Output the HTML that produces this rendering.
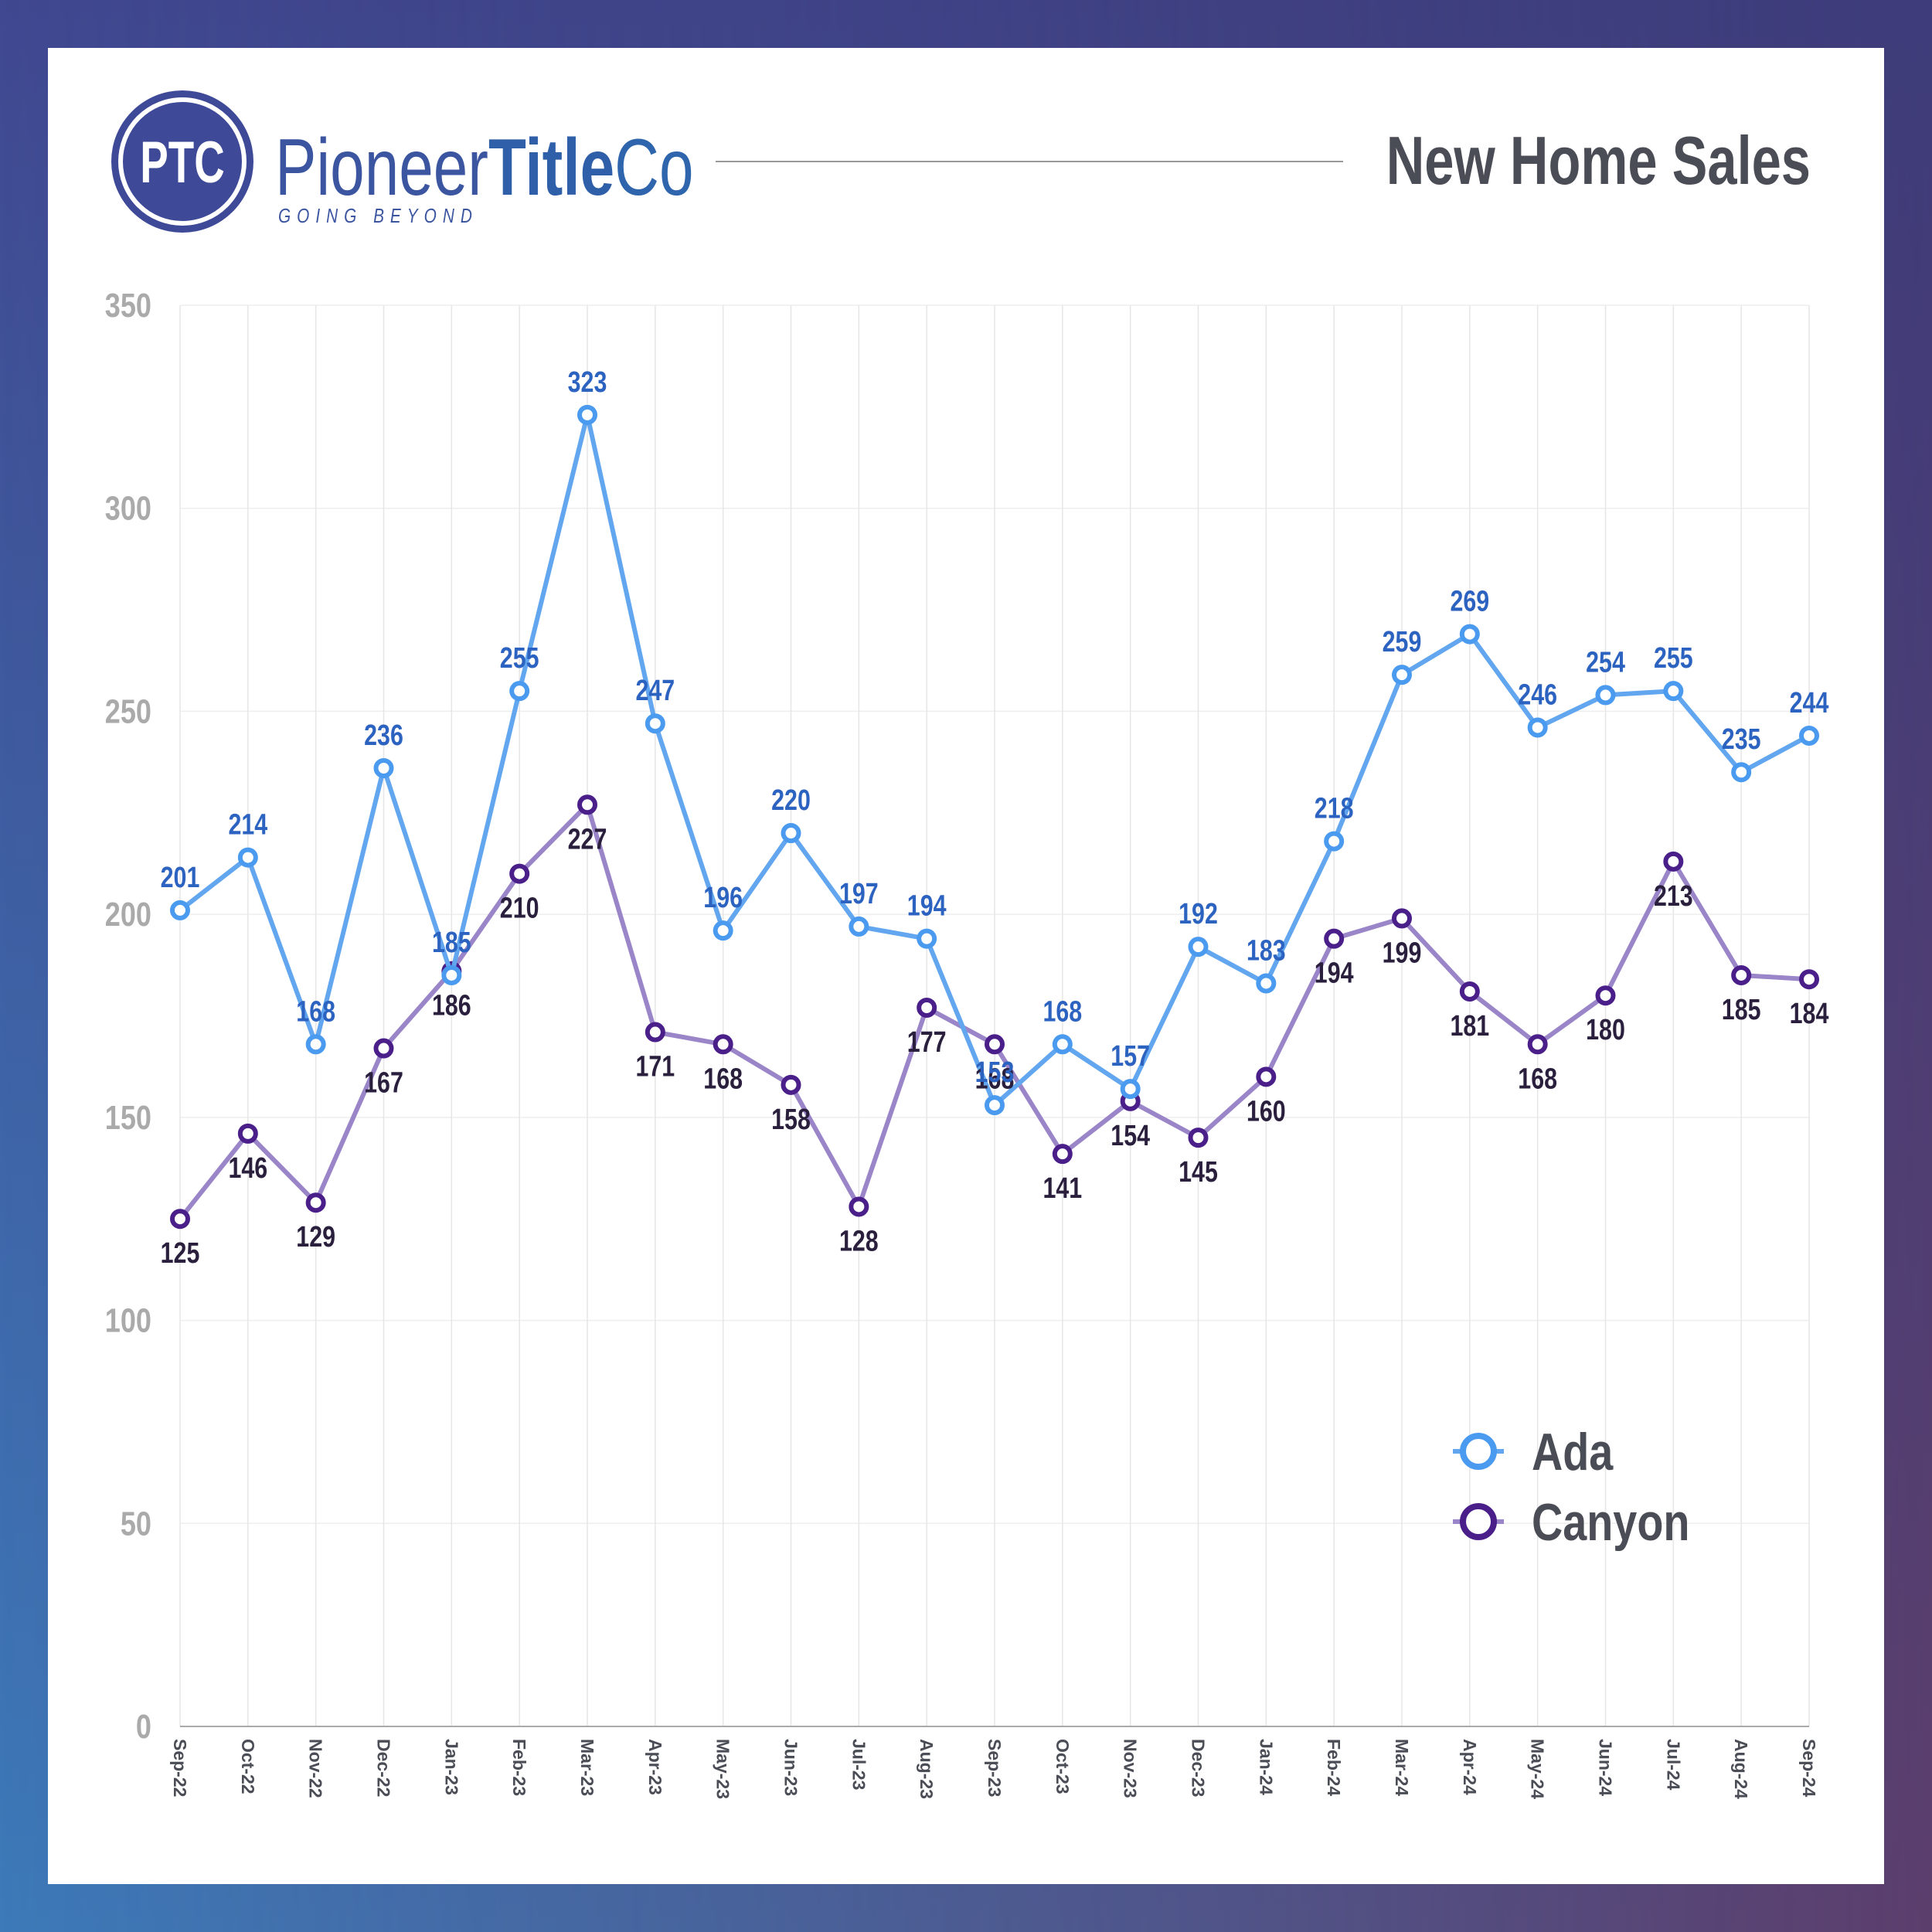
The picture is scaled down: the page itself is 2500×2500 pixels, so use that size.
<!DOCTYPE html>
<html><head><meta charset="utf-8">
<style>
html,body{margin:0;padding:0;width:2500px;height:2500px;overflow:hidden}
svg{position:absolute;left:0;top:0}
text{font-family:"Liberation Sans Narrow","Liberation Sans",sans-serif;font-weight:bold}
</style></head><body>
<svg id="s" width="2500" height="2500" viewBox="0 0 2500 2500" xmlns="http://www.w3.org/2000/svg">
<defs>
<linearGradient id="bgA" x1="0" y1="0" x2="0" y2="1">
<stop offset="0" stop-color="#404890"/><stop offset="1" stop-color="#3d7ab9"/>
</linearGradient>
<linearGradient id="bgB" x1="0" y1="0" x2="0" y2="1">
<stop offset="0" stop-color="#3e3c7a"/><stop offset="1" stop-color="#5c3e6c"/>
</linearGradient>
<linearGradient id="mask" x1="0" y1="0" x2="1" y2="0">
<stop offset="0" stop-color="#fff" stop-opacity="0"/><stop offset="1" stop-color="#fff" stop-opacity="1"/>
</linearGradient>
<mask id="m"><rect width="2500" height="2500" fill="url(#mask)"/></mask>
</defs>
<rect width="2500" height="2500" fill="url(#bgA)"/>
<rect width="2500" height="2500" fill="url(#bgB)" mask="url(#m)"/>
<rect x="62" y="62" width="2376" height="2376" fill="#fff"/>
<circle cx="236" cy="209" r="92" fill="#3e4a98"/>
<circle cx="236" cy="209" r="80" fill="none" stroke="#fff" stroke-width="6"/>
<text x="236" y="236" text-anchor="middle" font-size="76" fill="#fff" transform="translate(236 0) scale(0.72 1) translate(-236 0)">PTC</text>
<text x="356" y="252" font-size="104" fill="#3b55a0" style="font-weight:normal" transform="translate(356 0) scale(0.77 1) translate(-356 0)">Pioneer<tspan font-weight="bold" fill="#2f5fa8">Title</tspan><tspan font-weight="normal" fill="#2f65ad">Co</tspan></text>
<text x="360" y="288" font-size="26" fill="#3b55a0" font-style="italic" style="font-weight:normal;letter-spacing:10px" transform="translate(360 0) scale(0.8 1) translate(-360 0)">GOING BEYOND</text>
<line x1="926" y1="209" x2="1738" y2="209" stroke="#999" stroke-width="2"/>
<text x="2343" y="238" text-anchor="end" font-size="88" fill="#4a4d55" transform="translate(2343 0) scale(0.78 1) translate(-2343 0)">New Home Sales</text>
<g id="g"></g>
</svg>
<script>
var ada=[201,214,168,236,185,255,323,247,196,220,197,194,153,168,157,192,183,218,259,269,246,254,255,235,244];
var can=[125,146,129,167,186,210,227,171,168,158,128,177,168,141,154,145,160,194,199,181,168,180,213,185,184];
var mons=["Sep-22","Oct-22","Nov-22","Dec-22","Jan-23","Feb-23","Mar-23","Apr-23","May-23","Jun-23","Jul-23","Aug-23","Sep-23","Oct-23","Nov-23","Dec-23","Jan-24","Feb-24","Mar-24","Apr-24","May-24","Jun-24","Jul-24","Aug-24","Sep-24"];
var x0=233,x1=2341,y0=2234,yt=395;
function X(i){return x0+(x1-x0)*i/24}
function Y(v){return y0-(y0-yt)*v/350}
function sq(x,s){return ' transform="translate('+x+' 0) scale('+s+' 1) translate('+(-x)+' 0)"';}
var h='';
for(var v=0;v<=350;v+=50){var y=Y(v);
 if(v>0)h+='<line x1="'+x0+'" x2="'+x1+'" y1="'+y+'" y2="'+y+'" stroke="#eee" stroke-width="1.5"/>';
 h+='<text x="196" y="'+(y+15)+'" text-anchor="end" font-size="44" fill="#aaaaaa"'+sq(196,0.82)+'>'+v+'</text>';}
for(var i=0;i<25;i++){var x=X(i);
 h+='<line x1="'+x+'" x2="'+x+'" y1="'+yt+'" y2="'+y0+'" stroke="#e6e6e6" stroke-width="1.5"/>';
 h+='<text transform="translate('+(x-8)+' 2250) rotate(90)" font-size="23" fill="#4a4d55" style="font-family:\'Liberation Sans\',sans-serif">'+mons[i]+'</text>';}
h+='<line x1="'+x0+'" x2="'+x1+'" y1="'+y0+'" y2="'+y0+'" stroke="#aaa" stroke-width="2"/>';
function series(d,lc,mc){
 var p=d.map(function(v,i){return X(i)+','+Y(v)}).join(' ');
 var s='<polyline points="'+p+'" fill="none" stroke="'+lc+'" stroke-width="6" stroke-linejoin="round"/>';
 d.forEach(function(v,i){s+='<circle cx="'+X(i)+'" cy="'+Y(v)+'" r="10" fill="#fff" stroke="'+mc+'" stroke-width="6"/>';});
 return s;}
function labels(d,tc,off){var s='';d.forEach(function(v,i){s+='<text x="'+X(i)+'" y="'+(Y(v)+off)+'" text-anchor="middle" font-size="38" fill="'+tc+'"'+sq(X(i),0.8)+'>'+v+'</text>';});return s;}
h+=series(can,'#9a85c8','#4a1f8a');
h+=series(ada,'#62a6f0','#4a9af0');
h+=labels(can,'#2a1f3d',57);
h+=labels(ada,'#2d63c0',-30);
h+='<line x1="1880" x2="1946" y1="1878" y2="1878" stroke="#62a6f0" stroke-width="6"/><circle cx="1913" cy="1878" r="20" fill="#fff" stroke="#4a9af0" stroke-width="8"/>';
h+='<text x="1982" y="1902" font-size="68" fill="#4a4d55"'+sq(1982,0.82)+'>Ada</text>';
h+='<line x1="1880" x2="1946" y1="1969" y2="1969" stroke="#9a85c8" stroke-width="6"/><circle cx="1913" cy="1969" r="20" fill="#fff" stroke="#4a1f8a" stroke-width="8"/>';
h+='<text x="1982" y="1993" font-size="68" fill="#4a4d55"'+sq(1982,0.82)+'>Canyon</text>';
document.getElementById('g').innerHTML=h;
</script>
</body></html>
